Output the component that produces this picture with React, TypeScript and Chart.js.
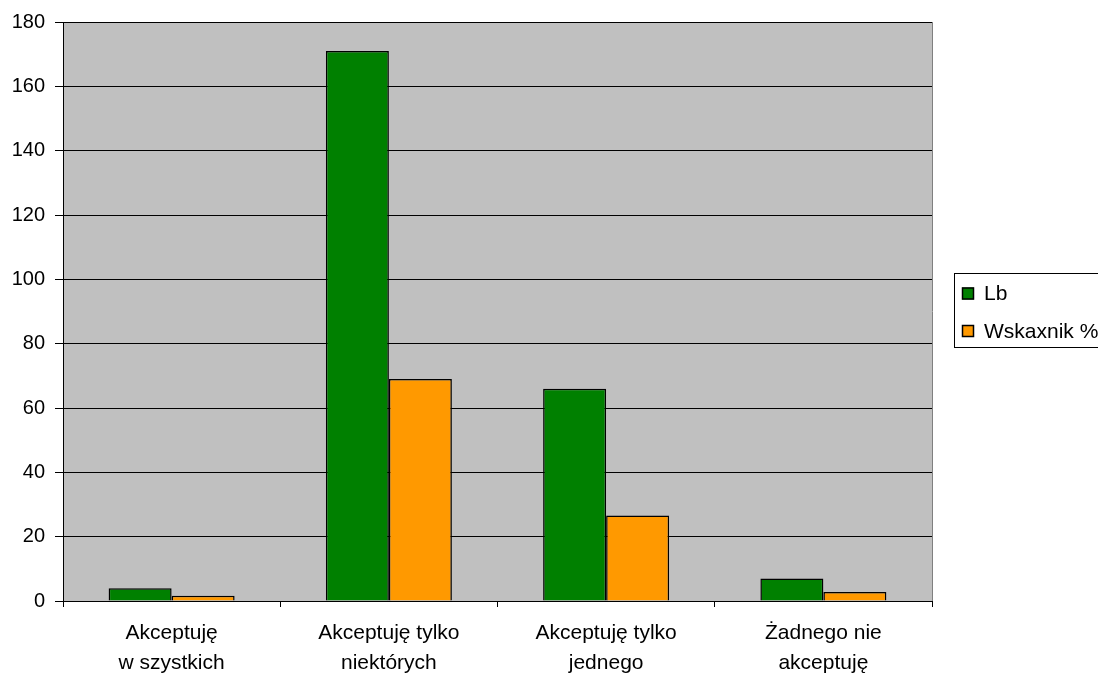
import React, { useEffect, useRef } from "react";
import { Chart, registerables } from "chart.js";

Chart.register(...registerables);

const categories: string[][] = [
  ["Akceptuję", "w szystkich"],
  ["Akceptuję tylko", "niektórych"],
  ["Akceptuję tylko", "jednego"],
  ["Żadnego nie", "akceptuję"],
];
const lbValues = [4, 171, 66, 7];
const pctValues = [1.6, 69, 26.6, 2.8];
const seriesNames = ["Lb", "Wskaxnik %"];
const seriesColors = ["#008000", "#FF9900"];
const yTicks = { min: 0, max: 180, step: 20 };

const FONT = "'Liberation Sans', Arial, sans-serif";

const bgPlugin = {
  id: "plotBg",
  beforeDraw(chart: any) {
    const { ctx, chartArea } = chart;
    ctx.save();
    ctx.fillStyle = "#C0C0C0";
    ctx.fillRect(chartArea.left, chartArea.top, chartArea.right - chartArea.left, chartArea.bottom - chartArea.top);
    ctx.restore();
  },
  afterDraw(chart: any) {
    const { ctx, chartArea } = chart;
    ctx.save();
    ctx.strokeStyle = "#808080";
    ctx.lineWidth = 1;
    ctx.beginPath();
    ctx.moveTo(Math.round(chartArea.right) + 0.5, chartArea.top);
    ctx.lineTo(Math.round(chartArea.right) + 0.5, chartArea.bottom);
    ctx.stroke();

    // legend
    const lx = 954.5, ly = 273.5, lw = 160, lh = 74;
    ctx.strokeStyle = "#000";
    ctx.fillStyle = "#fff";
    ctx.fillRect(lx, ly, lw, lh);
    ctx.strokeRect(lx, ly, lw, lh);
    ctx.font = `21px ${FONT}`;
    ctx.textBaseline = "middle";
    chart.data.datasets.forEach((ds: any, i: number) => {
      const cy = 293.5 + i * 37.5;
      ctx.fillStyle = ds.backgroundColor;
      ctx.fillRect(962, cy - 6, 12, 12);
      ctx.strokeStyle = "#000";
      ctx.lineWidth = 1.5;
      ctx.strokeRect(962.5, cy - 5.5, 11, 11);
      ctx.fillStyle = "#000";
      ctx.textAlign = "left";
      ctx.fillText(ds.label, 984, cy + 1);
    });
    ctx.restore();
  },
};

export default function App() {
  const ref = useRef<HTMLCanvasElement>(null);
  useEffect(() => {
    if (!ref.current) return;
    const chart = new Chart(ref.current, {
      type: "bar",
      data: {
        labels: categories,
        datasets: [
          { label: seriesNames[0], data: lbValues, backgroundColor: seriesColors[0], borderColor: "#000", borderWidth: 1.5 },
          { label: seriesNames[1], data: pctValues, backgroundColor: seriesColors[1], borderColor: "#000", borderWidth: 1.5 },
        ],
      },
      options: {
        animation: false,
        responsive: false,
        layout: { padding: { top: 22, right: 166, left: 0, bottom: 0 } },
        datasets: { bar: { categoryPercentage: 0.58, barPercentage: 1 } },
        plugins: { legend: { display: false }, tooltip: { enabled: false } },
        scales: {
          x: {
            offset: true,
            grid: { offset: true, drawOnChartArea: false, drawTicks: true, tickLength: 6, color: "#000" },
            border: { color: "#000", width: 1 },
            ticks: { color: "#000", font: { family: FONT, size: 21, lineHeight: 1.43 }, padding: 11, maxRotation: 0, autoSkip: false },
            afterFit: (s: any) => { s.height = 72; },
          },
          y: {
            min: yTicks.min,
            max: yTicks.max,
            grid: { color: "#000", tickLength: 8, drawTicks: true },
            border: { color: "#000", width: 1 },
            ticks: { stepSize: yTicks.step, color: "#000", font: { family: FONT, size: 20 }, padding: 10 },
            afterFit: (s: any) => { s.width = 63; },
          },
        },
      },
      plugins: [bgPlugin],
    });
    return () => chart.destroy();
  }, []);
  return (
    <div style={{ position: "fixed", left: 0, top: 0, width: 1098, height: 673, background: "#fff" }}>
      <canvas ref={ref} width={1098} height={673} style={{ display: "block" }} />
    </div>
  );
}
